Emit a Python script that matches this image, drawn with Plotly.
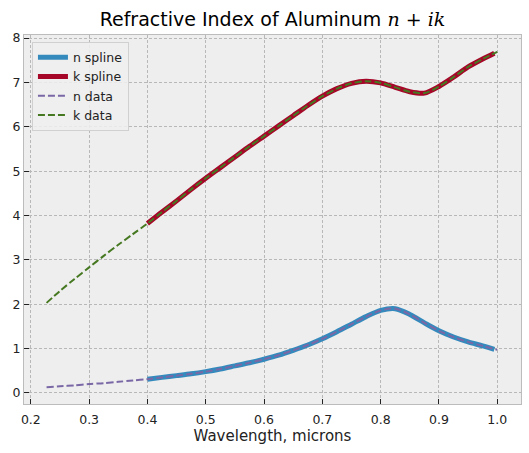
import plotly.graph_objects as go

# Wavelength (microns) and measured data
wl_data = [0.227, 0.25, 0.275, 0.30, 0.325, 0.35, 0.375, 0.40, 0.425, 0.45, 0.475,
           0.50, 0.525, 0.55, 0.575, 0.60, 0.625, 0.65, 0.675, 0.70, 0.725, 0.75,
           0.775, 0.80, 0.825, 0.85, 0.875, 0.90, 0.925, 0.95, 0.975, 1.00]
n_data = [0.13, 0.15, 0.17, 0.20, 0.22, 0.25, 0.28, 0.31, 0.35, 0.39, 0.43,
          0.48, 0.54, 0.61, 0.68, 0.76, 0.85, 0.96, 1.08, 1.22, 1.38, 1.55,
          1.72, 1.86, 1.90, 1.77, 1.58, 1.40, 1.26, 1.15, 1.06, 0.97]
k_data = [2.03, 2.30, 2.57, 2.83, 3.09, 3.34, 3.58, 3.82, 4.08, 4.33, 4.59,
          4.84, 5.08, 5.32, 5.56, 5.79, 6.02, 6.25, 6.48, 6.69, 6.86, 6.98,
          7.03, 6.99, 6.89, 6.79, 6.76, 6.91, 7.12, 7.35, 7.53, 7.69]

# Spline fit
wl_spline = [0.40, 0.425, 0.45, 0.475, 0.50, 0.525, 0.55, 0.575, 0.60, 0.625, 0.65,
             0.675, 0.70, 0.725, 0.75, 0.775, 0.80, 0.825, 0.85, 0.875, 0.90, 0.925,
             0.95, 0.975, 0.995]
n_spline = [0.31, 0.35, 0.39, 0.43, 0.48, 0.54, 0.61, 0.68, 0.76, 0.85, 0.96,
            1.08, 1.22, 1.38, 1.55, 1.72, 1.86, 1.90, 1.77, 1.58, 1.40, 1.26,
            1.15, 1.06, 0.98]
k_spline = [3.82, 4.08, 4.33, 4.59, 4.84, 5.08, 5.32, 5.56, 5.79, 6.02, 6.25,
            6.48, 6.69, 6.86, 6.98, 7.03, 6.99, 6.89, 6.79, 6.76, 6.91, 7.12,
            7.35, 7.53, 7.66]

x_ticks = [0.2, 0.3, 0.4, 0.5, 0.6, 0.7, 0.8, 0.9, 1.0]
y_ticks = [0, 1, 2, 3, 4, 5, 6, 7, 8]

FONT = "DejaVu Sans"

fig = go.Figure()
fig.add_trace(go.Scatter(x=wl_spline, y=n_spline, mode="lines", name="n spline",
                         line=dict(color="#348ABD", width=5, shape="spline", smoothing=0.8)))
fig.add_trace(go.Scatter(x=wl_spline, y=k_spline, mode="lines", name="k spline",
                         line=dict(color="#A60628", width=5, shape="spline", smoothing=0.8)))
fig.add_trace(go.Scatter(x=wl_data, y=n_data, mode="lines", name="n data",
                         line=dict(color="#7A68A6", width=2, dash="7px,3px", shape="spline", smoothing=0.8)))
fig.add_trace(go.Scatter(x=wl_data, y=k_data, mode="lines", name="k data",
                         line=dict(color="#467821", width=2, dash="7px,3px", shape="spline", smoothing=0.8)))

axis_common = dict(
    showgrid=True, gridcolor="#b8b8b8", gridwidth=0.8, griddash="3px,2px",
    showline=True, linecolor="#bcbcbc", linewidth=1, mirror=True,
    ticks="inside", ticklen=5, tickcolor="#222222", tickwidth=1,
    tickfont=dict(family=FONT, size=12.5, color="#222222"),
    zeroline=False,
)

fig.update_layout(
    width=529, height=453,
    margin=dict(l=24, r=8, t=35, b=49),
    paper_bgcolor="white", plot_bgcolor="#eeeeee",
    font=dict(family=FONT, color="#222222"),
    title=dict(
        text="Refractive Index of Aluminum <span style=\"font-family:'DejaVu Serif'\"><i>n</i> + <i>ik</i></span>",
        x=0.515, xanchor="center", y=0.957, yanchor="middle",
        font=dict(family=FONT, size=19, color="black"),
    ),
    xaxis=dict(axis_common, range=[0.1883, 1.0407], tickvals=x_ticks,
               ticktext=[f"{v:.1f}" for v in x_ticks], ticklabelstandoff=4,
               title=dict(text="Wavelength, microns", font=dict(family=FONT, size=15, color="#222222"),
                          standoff=2)),
    yaxis=dict(axis_common, range=[-0.25, 8.07], tickvals=y_ticks,
               ticktext=[str(v) for v in y_ticks]),
    legend=dict(
        x=0.016, y=0.982, xanchor="left", yanchor="top",
        bgcolor="rgba(238,238,238,0.85)", bordercolor="#d0d0d0", borderwidth=1,
        font=dict(family=FONT, size=12.5, color="#222222"),
        tracegroupgap=0, itemwidth=30,
    ),
    showlegend=True,
)

fig.write_html("out.html")
